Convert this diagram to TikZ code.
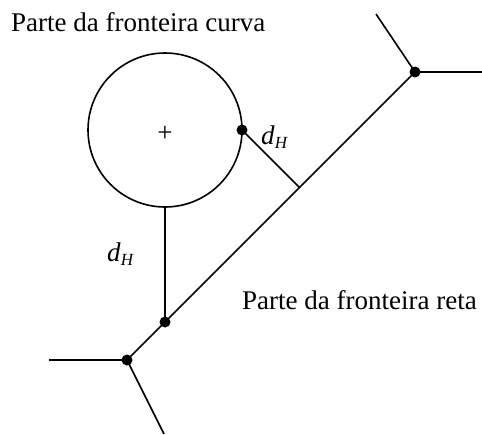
\documentclass[tikz,border=0pt]{standalone}
\usepackage{fontspec}
\setmainfont{Liberation Serif}
\begin{document}
\begin{tikzpicture}[x=1pt,y=-1pt,
  edge/.style={line width=1.6pt},
  dot/.style={circle,fill=black,inner sep=0pt,minimum size=11pt},
  lbl/.style={anchor=base west,inner sep=0pt,font=\fontsize{27}{30}\selectfont},
  dh/.style={anchor=base west,inner sep=0pt,font=\fontsize{27}{30}\selectfont}]
\useasboundingbox (0,0) rectangle (482,434);
% circle
\node[circle,draw,line width=1.6pt,minimum size=154pt,inner sep=0pt,outer sep=0pt] (C) at (165,130) {};
\node[font=\fontsize{27}{30}\selectfont,inner sep=0pt] (plus) at (165,134) {+};
% dots
\node[dot] (D1) at (242,130) {};
\node[dot] (P2) at (165,322) {};
\node[dot] (B1) at (127,360) {};
\node[dot] (B2) at (415,72) {};
\coordinate (F) at (299.5,187.5);
\coordinate (E1) at (49,360);
\coordinate (E2) at (164,434);
\coordinate (E3) at (376,14);
\coordinate (E4) at (482,72);
% connectors
\draw[edge] (B1.center) -- (B2.center);
\draw[edge] (D1.center) -- (F);
\draw[edge] (C.south) -- (P2.center);
\draw[edge] (B1.center) -- (E1);
\draw[edge] (B1.center) -- (E2);
\draw[edge] (B2.center) -- (E3);
\draw[edge] (B2.center) -- (E4);
% labels
\node[lbl] (t1) at (11,31) {Parte da fronteira curva};
\node[lbl] (t2) at (242,309) {Parte da fronteira reta};
\node[dh] (d1) at (261,144) {\textit{d}\raisebox{-0.17em}{\fontsize{17}{18}\selectfont\textit{H}}};
\node[dh] (d2) at (107,261) {\textit{d}\raisebox{-0.17em}{\fontsize{17}{18}\selectfont\textit{H}}};
\end{tikzpicture}
\end{document}
